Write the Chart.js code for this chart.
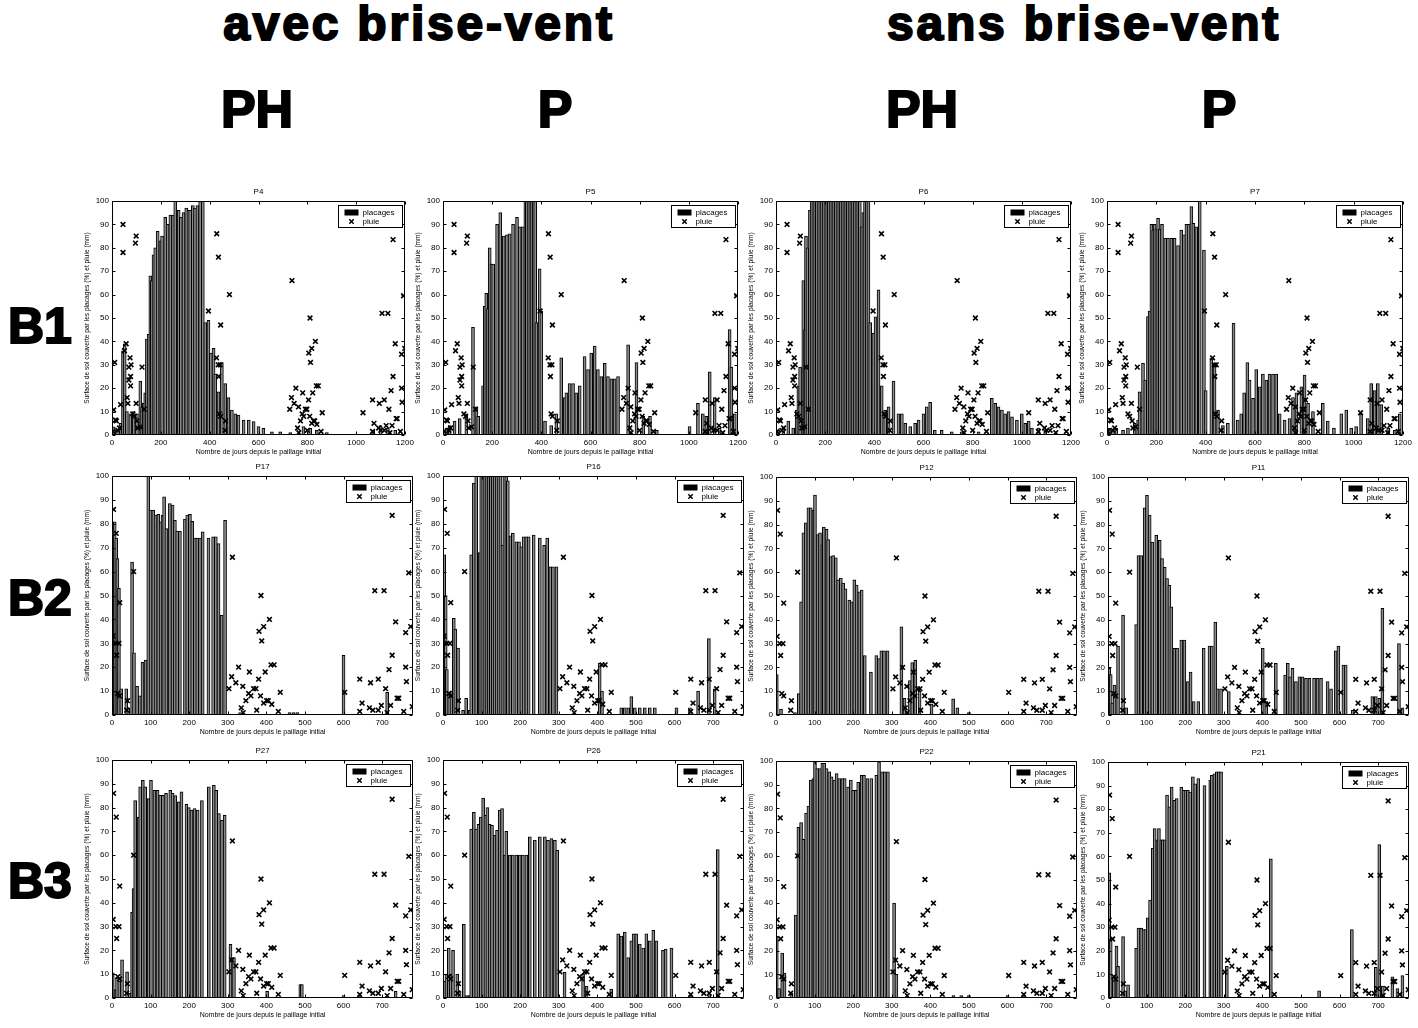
<!DOCTYPE html>
<html><head><meta charset="utf-8">
<script src="https://cdn.jsdelivr.net/npm/chart.js@4.4.0/dist/chart.umd.min.js"></script>
<style>
body{margin:0;background:#fff;width:1418px;height:1028px;position:relative;overflow:hidden;font-family:"Liberation Sans",Arial,sans-serif;}
.hdr{position:absolute;font-weight:bold;color:#000;-webkit-text-stroke:2px #000;white-space:nowrap;line-height:1;}
.c{transform:translateX(-50%);}
canvas{position:absolute;}
</style></head><body>
<div class="hdr c" style="left:419px;top:0px;font-size:48px;letter-spacing:2.8px;">avec brise-vent</div>
<div class="hdr c" style="left:1084px;top:0px;font-size:48px;letter-spacing:2.8px;">sans brise-vent</div>
<div class="hdr c" style="left:257px;top:83px;font-size:52px;">PH</div>
<div class="hdr c" style="left:555px;top:83px;font-size:52px;">P</div>
<div class="hdr c" style="left:922px;top:83px;font-size:52px;">PH</div>
<div class="hdr c" style="left:1219px;top:83px;font-size:52px;">P</div>
<div class="hdr" style="left:8px;top:301px;font-size:50px;">B1</div>
<div class="hdr" style="left:8px;top:573px;font-size:50px;">B2</div>
<div class="hdr" style="left:8px;top:856px;font-size:50px;">B3</div>
<script>
// ---------- tick labels ----------
const xTicksB1 = [0,200,400,600,800,1000,1200];
const xTicksB23 = [0,100,200,300,400,500,600,700];
const yTicks = [0,10,20,30,40,50,60,70,80,90,100];

// ---------- rain (pluie, mm) : [day, mm] ----------
const rainB1 = [[4,1.5],[11,31],[18,6],[24,2],[31,3],[35,13],[45,90],[45,78],[51,36],[58,39],[62,16],[65,13.5],[69,29],[74,33],[78,30],[69,23.5],[76,25],[76,21],[85,9],[92,8],[96,82],[99,85],[99,13.5],[102,6],[105,3],[116,3.5],[123,29],[132,11],[14,6.4],[7,10.7],
[395,53],[429,86],[436,76],[445,47],[428,33],[435,30],[443,30],[437,25],[440,9],[445,8],[465,6],[463,2],[481,60],
[728,11],[735,16],[737,66],[746,13.5],[753,20],[764,12],[760,3],[765,1],[772,6],[779,9],[781,18],[785,8],[792,11],[798,11],[800,2],[805,15],[806,35],[811,50],[813,31],[810,8],[818,37],[818,5],[822,18],[826,6],[833,40],[830,6],[837,21],[845,21],[839,4.5],[856,1.5],[861,9.5],
[1028,9.5],[1067,15],[1067,1.5],[1073,5],[1095,13.5],[1092,3],[1101,2],[1106,52],[1115,15],[1115,2],[1123,4],[1130,52],[1134,11],[1138,1],[1143,19],[1147,4],[1151,83.5],[1151,25],[1160,39],[1164,7],[1168,7],[1181,1.5],[1186,34.5],[1186,20],[1188,14],[1194,59.5],[1199,37]];
const rainB23 = [[4,86],[11,76],[20,47],[3,33],[10,30],[18,30],[12,25],[15,9],[20,8],[40,6],[38,2],[56,60],
[303,11],[310,16],[312,66],[321,13.5],[328,20],[339,12],[335,3],[340,1],[347,6],[354,9],[356,18],[360,8],[367,11],[373,11],[375,2],[380,15],[381,35],[386,50],[388,31],[385,8],[393,37],[393,5],[397,18],[401,6],[408,40],[405,6],[412,21],[420,21],[414,4.5],[431,1.5],[436,9.5],
[603,9.5],[642,15],[642,1.5],[648,5],[670,13.5],[667,3],[676,2],[681,52],[690,15],[690,2],[698,4],[705,52],[709,11],[713,1],[718,19],[722,4],[726,83.5],[726,25],[735,39],[739,7],[743,7],[756,1.5],[761,34.5],[761,20],[763,14],[769,59.5],[774,37],[778,3.5]];

// ---------- placages (% surface) : [day, %] ----------
const barsP4 = [[7,3.5],[20,2],[35,5],[45,36],[52,39],[61,10],[75,9],[89,10],[102,9],[116,23],[123,12],[130,13.5],[136,18],[143,41],[150,43],[157,68],[163,66],[170,77],[177,80],[187,87],[198,83],[205,85],[218,93],[228,90],[239,94],[250,94],[259,100],[273,96],[282,93],[293,95],[304,97],[313,96],[320,96],[331,98],[340,97],[350,98],[361,100],[372,100],[382,48],[395,49],[405,35],[416,37],[423,26],[436,18.5],[450,31],[464,22],[477,16],[491,10.7],[505,9],[518,8.5],[539,6.4],[560,6.4],[580,5.7],[600,3.6],[620,2.8],[655,1.4],[689,1.4],[730,1],[784,3.6],[812,2.8],[839,2],[880,1],[1070,2],[1100,4],[1130,3],[1160,2]];
const barsP5 = [[14,3],[27,4],[47,6],[68,7],[95,9],[122,46],[136,12],[143,8],[163,21],[170,55],[176,60.5],[183,54],[190,80],[197,73],[204,73],[220,90],[233,95],[247,85],[260,85.5],[271,86],[285,90],[301,93],[312,89],[325,89],[335,100],[341,100],[348,100],[355,100],[362,100],[369,100],[375,100],[380,48],[393,71],[400,53],[415,6],[440,4],[461,9],[481,33],[495,16],[502,18],[515,22],[529,22],[542,18],[556,21],[576,33.5],[590,28],[603,35],[617,38],[630,28],[644,25],[658,30.6],[671,25],[685,24],[698,24],[712,25],[753,38.5],[787,31],[815,8],[842,8],[870,2],[1003,3.6],[1037,13.5],[1057,9],[1071,8],[1085,27],[1105,16],[1125,3],[1166,45],[1173,29],[1187,9]];
const barsP6 = [[10,2],[30,3],[50,6],[70,3],[84,10.7],[91,21],[98,29],[111,66],[118,45],[122,85],[128,80],[138,96],[145,100],[152,100],[159,100],[166,100],[173,100],[180,100],[187,100],[194,100],[201,100],[208,100],[215,100],[222,100],[229,100],[236,100],[243,100],[250,100],[257,100],[264,100],[271,100],[278,100],[285,100],[292,100],[299,100],[306,100],[313,100],[320,100],[327,100],[334,100],[341,100],[348,89],[355,95],[362,100],[369,100],[376,100],[383,48],[396,43.5],[405,50.5],[417,62],[430,21],[444,10.7],[458,12],[478,23],[498,9],[512,9],[526,5],[546,3.6],[566,5],[580,6.4],[600,9],[613,12],[627,14],[646,2],[674,2],[715,1.4],[755,1.4],[824,1.4],[878,15.7],[892,13.5],[905,12],[919,10.7],[932,9],[946,10],[960,7.8],[980,6.4],[1000,9],[1014,5],[1028,6],[1041,3],[1068,3],[1095,2]];
const barsP7 = [[11,2.8],[24,2],[38,2.8],[65,2],[85,3],[112,5],[126,6.4],[132,18.5],[146,30.6],[155,23.5],[166,50.6],[173,53],[180,90],[187,87.6],[193,90],[200,88],[207,92.6],[214,88],[223,90],[236,84],[247,84],[261,84],[274,84],[288,81],[301,87.6],[312,85.5],[322,90],[331,90],[342,97.6],[350,90.5],[362,89],[372,87.6],[376,100],[393,79],[400,19],[423,33],[436,30.6],[450,10.7],[470,4],[490,5],[513,47.7],[530,6.4],[544,9],[556,18],[569,31],[578,23.5],[592,15.7],[605,28],[619,20.6],[632,26],[646,23.5],[659,26],[673,26],[686,26],[700,9],[720,6.4],[740,7],[754,16],[768,18],[788,20.6],[801,25.6],[815,13.5],[835,10],[875,13.5],[895,6],[920,3],[950,9],[970,10.7],[990,3],[1010,3.6],[1030,9],[1057,7],[1071,22],[1085,19],[1098,22],[1112,13],[1140,3],[1167,2],[1187,9]];
const barsP17 = [[3,12],[7,80.8],[11,74],[14,65.5],[18,53],[24,11],[37,11],[42,3],[52,64],[57,26],[65,12],[72,8],[79,22],[87,23],[94,100],[100,85.7],[107,85.7],[113,83.6],[120,84],[126,80.8],[131,83.6],[135,91.3],[141,78],[150,88.5],[157,87.8],[163,81.5],[169,77],[176,77],[189,82],[195,83.6],[202,84],[208,81],[215,74],[221,74],[228,74],[235,76.6],[250,74],[262,74.5],[269,74.5],[276,71.7],[284,41.7],[293,81.5],[332,1],[460,1],[470,1],[480,1],[600,25],[713,9.5]];
const barsP16 = [[3,67],[7,50],[10,19],[16,8.4],[22,10],[28,40.4],[32,36],[39,28],[52,2],[60,7],[69,2],[73,67],[80,97],[86,100],[95,68],[99,100],[104,100],[109,100],[114,100],[119,100],[124,100],[129,100],[134,100],[139,100],[144,100],[149,100],[154,71],[159,100],[164,100],[168,98],[175,75],[181,76],[190,72.5],[197,72.5],[203,70.4],[209,74.6],[216,74.6],[222,74.6],[235,75.3],[251,74],[262,71],[270,74],[278,62],[285,62],[294,62],[406,21.6],[412,10],[462,3],[471,3],[480,3],[488,7.7],[497,3],[510,3],[523,3],[536,3],[549,3],[605,3],[640,3],[661,10],[689,32],[704,11]];
const barsP12 = [[2,17],[13,2.5],[49,1],[59,9],[65,47.6],[71,76.5],[77,80.7],[84,87],[90,87],[97,86],[101,92.4],[108,75.8],[114,76.5],[120,71.5],[124,79],[131,78],[135,73.7],[142,66.6],[148,67],[155,66],[161,56.8],[168,57.5],[174,55.4],[180,53],[190,48.3],[196,47.6],[203,56.8],[209,54.6],[216,51.8],[222,52.5],[230,25],[246,18],[260,25],[267,23.7],[273,27],[280,27],[289,27],[325,37],[333,7],[347,14.5],[353,22],[361,23],[372,10],[403,4.6],[459,6.8],[470,3],[500,1]];
const barsP11 = [[3,19.6],[7,17],[11,5],[17,12.6],[26,29],[39,42],[47,3],[73,38],[79,67],[86,67],[95,87],[101,92.3],[108,84],[115,72.7],[125,75.5],[134,73.4],[140,65.7],[147,62],[153,57.3],[159,54.5],[164,45.5],[172,28],[179,28],[190,31.5],[198,31.5],[207,14],[214,18],[222,5.6],[234,5.6],[248,28],[263,29],[269,29],[278,39],[284,11],[293,11],[313,9.8],[401,28],[410,5.6],[435,21.7],[459,16.8],[466,21.7],[472,16],[478,19.6],[487,14],[496,16],[504,16],[513,15.4],[522,15.4],[534,15.4],[543,15.4],[552,15.4],[569,14],[578,11],[590,27],[597,29],[610,21],[616,21],[634,2],[685,7.7],[694,7.7],[703,7],[711,44.8],[754,30],[763,3]];
const barsP27 = [[2,10.6],[9,3.5],[13,8.5],[19,7],[26,16],[39,11],[46,2],[52,36],[56,46],[60,83],[69,76],[73,88.7],[80,91.5],[86,88.7],[95,83.8],[101,91.5],[110,87.3],[118,87.3],[125,85.2],[132,85.2],[140,86],[151,87.3],[157,86],[164,85],[173,82.4],[180,86.6],[193,81.4],[199,80],[206,79],[214,79.6],[222,79],[233,83],[251,88.7],[264,89.4],[270,87.3],[277,77.5],[285,74.6],[292,76.8],[307,22.5],[316,17],[402,2.8],[488,5.6],[492,5.6],[600,1],[640,1],[735,2.8]];
const barsP26 = [[3,7],[9,10],[15,21],[20,10],[26,20],[37,10],[43,3],[54,31],[62,1],[69,1],[73,71],[80,78],[86,71],[92,73],[98,76],[104,84],[110,76.8],[115,80],[121,73],[127,72.6],[134,68.4],[140,70.5],[147,79],[153,79.6],[160,60],[164,70],[173,60],[181,60],[190,60],[199,60],[207,60],[216,60],[225,67.7],[238,66.3],[251,67.7],[264,67.7],[272,66.3],[281,67],[290,66.3],[296,62],[315,10.8],[363,10],[372,5],[436,3.8],[454,27],[462,26],[471,27.7],[480,17],[488,24],[494,27],[501,27],[510,22.7],[519,21],[527,27],[536,24],[545,28.4],[553,24],[570,20],[577,20.6],[592,21],[640,1],[690,1],[712,62.4]];
const barsP22 = [[2,26],[8,4],[16,19],[22,10.5],[40,2],[51,35],[58,72],[65,74],[71,67],[78,78],[84,81],[90,92],[97,92.6],[101,99.6],[107,96.8],[114,96.8],[120,99],[125,99],[131,96.8],[138,95.4],[144,93.3],[151,92],[157,94.7],[164,92.6],[172,92.6],[178,92.6],[187,89],[194,92],[200,87.6],[207,87.6],[213,91],[222,94],[228,94],[237,92.6],[247,92.6],[260,94],[267,99.6],[275,95.4],[282,95.4],[290,95.4],[306,40],[312,10],[460,1],[480,1],[500,1],[600,1],[640,1]];
const barsP21 = [[3,53],[7,25],[15,8.5],[22,22],[26,13.4],[39,26],[45,3],[52,5.6],[73,21],[79,29.6],[86,29.6],[92,29],[97,29],[103,34],[109,41.5],[116,63.4],[121,71.8],[128,67],[132,71.8],[138,67],[142,67],[147,67],[153,86],[159,81],[165,89.4],[172,83.8],[178,84.5],[190,89.4],[196,88],[201,88],[207,88],[213,87.3],[220,93.7],[226,90.8],[234,93],[250,90],[265,92.3],[269,94.4],[276,95],[282,95.8],[287,95.8],[293,95.8],[308,13.4],[422,59],[547,3],[632,29],[694,13],[703,65],[712,5],[737,9],[750,4],[763,9.5]];

// ---------- layout ----------
const FONT = '"Liberation Sans", Arial, sans-serif';
Chart.defaults.font.family = FONT;
Chart.defaults.color = '#000';

const panels = [
  {t:'P4',  bars:barsP4,  rain:rainB1,  xmax:1200, xt:xTicksB1,  L:112, R:405,  T:201, B:435},
  {t:'P5',  bars:barsP5,  rain:rainB1,  xmax:1200, xt:xTicksB1,  L:443, R:738,  T:201, B:435},
  {t:'P6',  bars:barsP6,  rain:rainB1,  xmax:1200, xt:xTicksB1,  L:776, R:1071, T:201, B:435},
  {t:'P7',  bars:barsP7,  rain:rainB1,  xmax:1200, xt:xTicksB1,  L:1107,R:1403, T:201, B:435},
  {t:'P17', bars:barsP17, rain:rainB23, xmax:780,  xt:xTicksB23, L:112, R:413,  T:476, B:715},
  {t:'P16', bars:barsP16, rain:rainB23, xmax:780,  xt:xTicksB23, L:443, R:744,  T:476, B:715},
  {t:'P12', bars:barsP12, rain:rainB23, xmax:780,  xt:xTicksB23, L:776, R:1077, T:477, B:715},
  {t:'P11', bars:barsP11, rain:rainB23, xmax:780,  xt:xTicksB23, L:1108,R:1409, T:477, B:715},
  {t:'P27', bars:barsP27, rain:rainB23, xmax:780,  xt:xTicksB23, L:112, R:413,  T:760, B:998},
  {t:'P26', bars:barsP26, rain:rainB23, xmax:780,  xt:xTicksB23, L:443, R:744,  T:760, B:998},
  {t:'P22', bars:barsP22, rain:rainB23, xmax:780,  xt:xTicksB23, L:776, R:1077, T:761, B:998},
  {t:'P21', bars:barsP21, rain:rainB23, xmax:780,  xt:xTicksB23, L:1108,R:1409, T:762, B:998}
];

const PADL = 34, PADT = 16, PADB = 24, PADR = 12;

const framePlugin = {
  id: 'matlabFrame',
  afterDatasetsDraw(chart) {
    const {ctx, chartArea: a, scales: {x, y}} = chart;
    const l = Math.round(a.left) + 0.5, r = Math.round(a.right) - 0.5;
    const t = Math.round(a.top) + 0.5, b = Math.round(a.bottom) - 0.5;
    ctx.save();
    ctx.strokeStyle = '#000';
    ctx.lineWidth = 1;
    ctx.beginPath();
    ctx.rect(l, t, r - l, b - t);
    x.ticks.forEach(tk => {
      const p = Math.round(x.getPixelForValue(tk.value)) + 0.5;
      ctx.moveTo(p, b); ctx.lineTo(p, b - 3);
      ctx.moveTo(p, t); ctx.lineTo(p, t + 3);
    });
    y.ticks.forEach(tk => {
      const p = Math.round(y.getPixelForValue(tk.value)) + 0.5;
      ctx.moveTo(l, p); ctx.lineTo(l + 3, p);
      ctx.moveTo(r, p); ctx.lineTo(r - 3, p);
    });
    ctx.stroke();
    // legend box (top-right, inside plot)
    const w = 64, h = 22;
    const lx = Math.round(a.right) - 3 - w + 0.5, ly = Math.round(a.top) + 4 + 0.5;
    ctx.fillStyle = '#fff';
    ctx.fillRect(lx, ly, w, h);
    ctx.strokeRect(lx, ly, w, h);
    ctx.fillStyle = '#000';
    ctx.fillRect(lx + 6, ly + 4, 14, 6);
    ctx.beginPath();
    const cx = lx + 13, cy = ly + 16;
    ctx.lineWidth = 1.5;
    ctx.moveTo(cx - 2.2, cy - 2.2); ctx.lineTo(cx + 2.2, cy + 2.2);
    ctx.moveTo(cx + 2.2, cy - 2.2); ctx.lineTo(cx - 2.2, cy + 2.2);
    ctx.stroke();
    ctx.font = '8px ' + FONT;
    ctx.textBaseline = 'middle';
    ctx.textAlign = 'left';
    ctx.fillText('placages', lx + 24, ly + 7);
    ctx.fillText('pluie', lx + 24, cy);
    ctx.restore();
  }
};

panels.forEach(p => {
  const cv = document.createElement('canvas');
  const W = (p.R - p.L) + PADL + PADR, H = (p.B - p.T) + PADT + PADB;
  cv.width = W; cv.height = H;
  cv.style.width = W + 'px'; cv.style.height = H + 'px';
  cv.style.left = (p.L - PADL) + 'px';
  cv.style.top = (p.T - PADT) + 'px';
  document.body.appendChild(cv);
  const xt = p.xt;
  new Chart(cv.getContext('2d'), {
    type: 'bar',
    data: {
      datasets: [
        {
          type: 'bar', label: 'placages',
          data: p.bars.map(d => ({x: d[0], y: d[1]})),
          backgroundColor: '#8a8a8a', borderColor: '#000', borderWidth: 1,
          borderSkipped: 'start', barThickness: 3, grouped: false, order: 2
        },
        {
          type: 'scatter', label: 'pluie',
          data: p.rain.map(d => ({x: d[0], y: d[1]})),
          pointStyle: 'crossRot', pointRadius: 3.3, pointBorderWidth: 1.6,
          borderColor: '#000', backgroundColor: '#000', showLine: false, order: 1
        }
      ]
    },
    options: {
      responsive: false, animation: false, devicePixelRatio: 1,
      layout: {padding: {left: 0, right: PADR, top: 0, bottom: 0}},
      plugins: {
        legend: {display: false},
        tooltip: {enabled: false},
        title: {display: true, text: p.t, fullSize: false, color: '#000',
                font: {size: 8, family: FONT, lineHeight: 1.25, weight: 'normal'},
                padding: {top: 2, bottom: 4}}
      },
      scales: {
        x: {
          type: 'linear', min: 0, max: p.xmax, offset: false,
          grid: {display: false, drawTicks: false, offset: false},
          border: {display: false},
          afterBuildTicks: s => { s.ticks = xt.map(v => ({value: v})); },
          afterFit: s => { s.height = PADB; },
          ticks: {font: {size: 8}, color: '#000', padding: 3, maxRotation: 0, autoSkip: false,
                  callback: v => String(v)},
          title: {display: true, text: 'Nombre de jours depuis le paillage initial',
                  font: {size: 7}, color: '#000', padding: {top: 0, bottom: 3}}
        },
        y: {
          type: 'linear', min: 0, max: 100,
          grid: {display: false, drawTicks: false},
          border: {display: false},
          afterBuildTicks: s => { s.ticks = yTicks.map(v => ({value: v})); },
          afterFit: s => { s.width = PADL; },
          ticks: {font: {size: 8}, color: '#000', padding: 3, autoSkip: false,
                  callback: v => String(v)},
          title: {display: true, text: 'Surface de sol couverte par les placages (%) et pluie (mm)',
                  font: {size: 6.6}, color: '#000', padding: {top: 5, bottom: 0}}
        }
      }
    },
    plugins: [framePlugin]
  });
});
</script>
</body></html>
